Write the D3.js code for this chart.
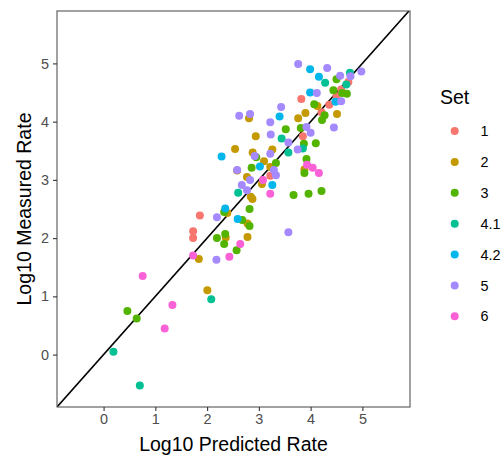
<!DOCTYPE html>
<html>
<head>
<meta charset="utf-8">
<script src="https://cdn.jsdelivr.net/npm/d3@7"></script>
<style>
html,body{margin:0;padding:0;background:#fff;}
svg{display:block;font-family:"Liberation Sans",Arial,Helvetica,sans-serif;}
</style>
</head>
<body>
<svg id="chart" width="504" height="456"></svg>
<script>
const sets = ["1","2","3","4.1","4.2","5","6"];
const colors = ["#F8766D","#C49A00","#53B400","#00C094","#00B6EB","#A58AFF","#FB61D7"];
const xTicks = [0,1,2,3,4,5];
const yTicks = [0,1,2,3,4,5];

const set1x = [1.73,1.73,1.86,3.82,3.85,3.22,4.73,4.59,4.50,4.36,4.21];
const set1y = [2.12,2.00,2.39,4.39,3.75,3.07,4.68,4.55,4.43,4.29,4.16];

const set2x = [1.84,2.005,2.36,2.39,2.78,2.78,2.845,2.876,2.77,3.06,2.58,2.54,2.88,3.26,3.10,3.22,2.94,2.81,3.76,3.90,4.13,4.51,3.88];
const set2y = [1.64,1.106,2.01,2.43,2.02,2.25,2.71,2.67,3.05,2.93,3.16,3.53,3.47,3.52,3.32,3.22,3.75,4.06,4.06,4.15,4.27,4.13,3.18];

const set3x = [0.46,0.64,2.19,2.35,2.33,2.57,2.33,2.68,2.82,2.82,2.86,2.95,3.33,3.52,3.81,3.87,4.10,3.92,3.88,3.67,3.96,4.21,4.07,4.27,4.22,4.44,4.61,4.70,4.50];
const set3y = [0.75,0.62,2.00,2.07,1.90,1.79,2.45,2.31,2.21,2.50,3.21,3.39,3.29,3.87,3.89,3.62,3.63,3.36,3.12,2.74,2.76,2.81,4.30,4.11,4.03,4.54,4.49,4.48,4.73];

const set41x = [0.19,0.70,2.08,2.60,3.44,3.57,3.85,4.28,4.76,4.69];
const set41y = [0.05,-0.53,0.95,2.78,3.71,3.47,3.54,4.67,4.84,4.64];

const set42x = [2.35,2.59,2.28,3.02,3.26,3.40,3.99,3.99,4.16,4.48];
const set42y = [2.51,2.33,3.40,3.23,2.91,4.09,4.50,4.90,4.77,4.34];

const set5x = [2.18,2.19,2.62,2.83,3.43,3.22,3.23,2.92,3.22,2.58,2.83,3.29,3.33,2.67,2.77,3.57,3.75,3.92,4.00,4.45,4.59,4.12,3.76,4.32,4.57,4.77,4.98,3.57];
const set5y = [1.63,2.36,4.10,4.13,4.25,3.99,3.78,3.41,3.45,3.17,3.00,3.17,3.08,2.91,2.82,3.64,3.52,3.91,3.81,3.90,4.35,4.49,4.99,4.92,4.79,4.78,4.86,2.10];

const set6x = [0.755,1.33,1.18,1.73,2.43,2.64,3.08,3.22,3.93,4.04,4.16];
const set6y = [1.35,0.85,0.45,1.70,1.68,1.90,3.00,2.76,3.26,3.21,3.12];

const seriesX = [set1x,set2x,set3x,set41x,set42x,set5x,set6x];
const seriesY = [set1y,set2y,set3y,set41y,set42y,set5y,set6y];

const points = [];
sets.forEach((s,i)=>{
  seriesX[i].forEach((xv,j)=>points.push({set:s,x:xv,y:seriesY[i][j]}));
});

const svg = d3.select("#chart");
const L=57, R=410, T=11, B=407;
const xDom=[-0.9,5.92], yDom=[-0.9,5.9];
const x = d3.scaleLinear().domain(xDom).range([L,R]);
const y = d3.scaleLinear().domain(yDom).range([B,T]);
const color = d3.scaleOrdinal().domain(sets).range(colors);

svg.append("defs").append("clipPath").attr("id","clip")
  .append("rect").attr("x",L).attr("y",T).attr("width",R-L).attr("height",B-T);

const g = svg.append("g").attr("clip-path","url(#clip)");
g.append("line")
  .attr("x1",x(xDom[0])).attr("y1",y(xDom[0]))
  .attr("x2",x(yDom[1]+0.1)).attr("y2",y(yDom[1]+0.1))
  .attr("stroke","#000").attr("stroke-width",1.6);

g.selectAll("circle").data(points).enter().append("circle")
  .attr("cx",d=>x(d.x)).attr("cy",d=>y(d.y)).attr("r",4)
  .attr("fill",d=>color(d.set));

svg.append("rect").attr("x",L).attr("y",T).attr("width",R-L).attr("height",B-T)
  .attr("fill","none").attr("stroke","#555").attr("stroke-width",1.1);

const xAxis = svg.append("g").attr("transform",`translate(0,${B})`)
  .call(d3.axisBottom(x).tickValues(xTicks).tickFormat(d3.format("d")).tickSize(4).tickPadding(3));
const yAxis = svg.append("g").attr("transform",`translate(${L},0)`)
  .call(d3.axisLeft(y).tickValues(yTicks).tickFormat(d3.format("d")).tickSize(4).tickPadding(4));
[xAxis,yAxis].forEach(a=>{
  a.select(".domain").remove();
  a.selectAll(".tick line").attr("stroke","#333").attr("stroke-width",1.1);
  a.selectAll(".tick text").attr("fill","#4D4D4D").style("font-size","14.4px")
    .style("font-family",'"Liberation Sans",Arial,sans-serif');
});

svg.append("text").attr("x",(L+R)/2).attr("y",450.5).attr("text-anchor","middle")
  .style("font-size","19.5px").attr("fill","#000").text("Log10 Predicted Rate");
svg.append("text").attr("transform",`translate(30.5,${(T+B)/2}) rotate(-90)`)
  .attr("text-anchor","middle").style("font-size","19.5px").attr("fill","#000").text("Log10 Measured Rate");

const leg = svg.append("g");
leg.append("text").attr("x",440).attr("y",104).style("font-size","19.5px").attr("fill","#000").text("Set");
sets.forEach((s,i)=>{
  const cy = 131 + i*30.88;
  leg.append("circle").attr("cx",454.7).attr("cy",cy).attr("r",4).attr("fill",color(s));
  leg.append("text").attr("x",480.5).attr("y",cy+5.2).style("font-size","14.4px").attr("fill","#000").text(s);
});
</script>
</body>
</html>
